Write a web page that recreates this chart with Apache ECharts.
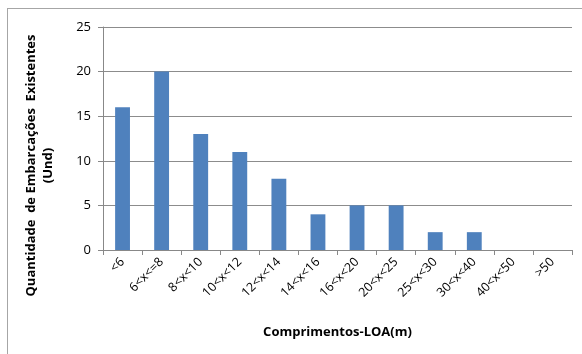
<!DOCTYPE html>
<html>
<head>
<meta charset="utf-8">
<script src="https://cdn.jsdelivr.net/npm/echarts@6/dist/echarts.min.js"></script>
<style>
html, body { margin: 0; padding: 0; background: #fff; }
#frame {
  position: absolute;
  left: 7px;
  top: 8px;
  width: 580px;
  height: 350px;
  border: 1px solid #a6a6a6;
  box-sizing: border-box;
}
#chart { position: absolute; left: 0; top: 0; width: 582px; height: 354px; }
</style>
</head>
<body>
<div id="frame"></div>
<div id="chart"></div>
<script>
// faixas de comprimento
const categories = ['<6', '6<x<=8', '8<x<10', '10<x<12', '12<x<14', '14<x<16',
  '16<x<20', '20<x<25', '25<x<30', '30<x<40', '40<x<50', '>50'];
// quantidade de embarcações
const counts = [16, 20, 13, 11, 8, 4, 5, 5, 2, 2, 0, 0];

const myChart = echarts.init(document.getElementById('chart'));
myChart.setOption({
  animation: false,
  textStyle: { fontFamily: 'Open Sans', color: '#000' },
  grid: { left: 103, right: 10, top: 27, bottom: 104, outerBoundsMode: 'none', containLabel: false },
  xAxis: {
    type: 'category',
    data: categories,
    name: 'Comprimentos-LOA(m)',
    nameLocation: 'middle',
    nameGap: 76,
    nameTextStyle: { fontSize: 13, fontWeight: 'bold', color: '#000' },
    axisLine: { lineStyle: { color: '#888' } },
    axisTick: { show: true, length: 5, lineStyle: { color: '#888' } },
    axisLabel: { rotate: 45, fontSize: 12.5, color: '#000', interval: 0, margin: 10 }
  },
  yAxis: {
    type: 'value',
    min: 0,
    max: 25,
    interval: 5,
    name: 'Quantidade  de Embarcações  Existentes\n(Und)',
    nameLocation: 'middle',
    nameGap: 46,
    nameRotate: 90,
    nameTextStyle: {
      fontSize: 13, fontWeight: 'bold', color: '#000', lineHeight: 17, align: 'center',
      padding: [0, 54, 0, 0]
    },
    axisLine: { show: true, lineStyle: { color: '#888' } },
    axisTick: { show: true, length: 5, inside: false, lineStyle: { color: '#888' } },
    axisLabel: { fontSize: 13, color: '#000', margin: 12 },
    splitLine: { lineStyle: { color: '#8c8c8c' } }
  },
  series: [
    {
      type: 'bar',
      data: counts,
      barWidth: '38%',
      itemStyle: { color: '#4f81bd' }
    }
  ]
});
</script>
</body>
</html>
